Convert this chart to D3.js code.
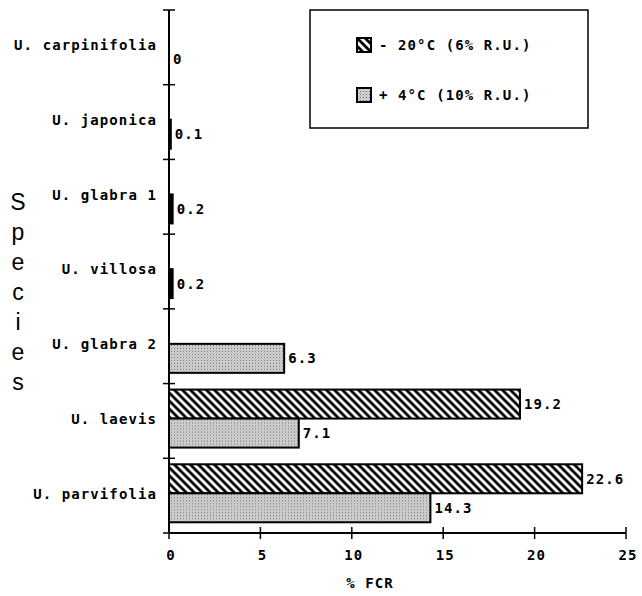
<!DOCTYPE html>
<html>
<head>
<meta charset="utf-8">
<script src="https://cdn.jsdelivr.net/npm/d3@7"></script>
<style>
  body { margin: 0; background: #fff; }
  text { font-family: "DejaVu Sans Mono", monospace; font-weight: bold; font-size: 14px; letter-spacing: 1.1px; fill: #000; }
</style>
</head>
<body>
<div id="chart"></div>
<script>
var species = ["U. carpinifolia", "U. japonica", "U. glabra 1", "U. villosa", "U. glabra 2", "U. laevis", "U. parvifolia"];
var minus20 = [null, null, null, null, null, 19.2, 22.6];   // - 20°C (6% R.U.)
var plus4 = [0, 0.1, 0.2, 0.2, 6.3, 7.1, 14.3];             // + 4°C (10% R.U.)
var xTicks = [0, 5, 10, 15, 20, 25];
var seriesNames = ["- 20°C (6% R.U.)", "+ 4°C (10% R.U.)"];

var width = 642, height = 596;
var svg = d3.select("#chart").append("svg")
  .attr("width", width).attr("height", height);

// patterns
var defs = svg.append("defs");
var hatch = defs.append("pattern").attr("id", "hatch")
  .attr("patternUnits", "userSpaceOnUse").attr("width", 8).attr("height", 8);
hatch.append("rect").attr("width", 8).attr("height", 8).attr("fill", "#fff");
hatch.append("path").attr("d", "M-2,-2 L10,10 M-2,6 L2,10 M6,-2 L10,2")
  .attr("stroke", "#000").attr("stroke-width", 2.8);

var dots = defs.append("pattern").attr("id", "dots")
  .attr("patternUnits", "userSpaceOnUse").attr("width", 3).attr("height", 3);
dots.append("rect").attr("width", 3).attr("height", 3).attr("fill", "#d6d6d6");
dots.append("rect").attr("width", 1).attr("height", 1).attr("fill", "#666");
dots.append("rect").attr("x", 1.5).attr("y", 1.5).attr("width", 1).attr("height", 1).attr("fill", "#999");

var x = d3.scaleLinear().domain([0, 25]).range([169, 626]);
var y = d3.scaleBand().domain(species).range([10, 533]);
var sub = d3.scaleBand().domain(["m20", "p4"]).range([6, 64]);

var rows = species.map(function(s, i) { return { name: s, m20: minus20[i], p4: plus4[i] }; });

// bars
var g = svg.selectAll(".grp").data(rows).enter().append("g")
  .attr("transform", function(d) { return "translate(0," + y(d.name) + ")"; });

["m20", "p4"].forEach(function(k) {
  var sel = g.filter(function(d) { return d[k] != null; });
  sel.filter(function(d) { return d[k] > 0; }).append("rect")
    .attr("x", x(0))
    .attr("y", sub(k))
    .attr("width", function(d) { return x(d[k]) - x(0); })
    .attr("height", sub.bandwidth())
    .attr("fill", function(d) { return d[k] < 1 ? "#000" : (k == "m20" ? "url(#hatch)" : "url(#dots)"); })
    .attr("stroke", "#000").attr("stroke-width", 2);
  sel.append("text")
    .attr("x", function(d) { return x(d[k]) + 4; })
    .attr("y", sub(k) + sub.bandwidth() / 2)
    .attr("dy", "0.35em")
    .text(function(d) { return d[k]; });
});

// y axis
svg.append("line").attr("x1", x(0)).attr("x2", x(0)).attr("y1", 10).attr("y2", 533)
  .attr("stroke", "#000").attr("stroke-width", 2);
var bounds = species.map(function(s) { return y(s); }).concat([533]);
svg.selectAll(".ytick").data(bounds).enter().append("line")
  .attr("x1", x(0) - 6).attr("x2", x(0) + 6)
  .attr("y1", function(d) { return d; }).attr("y2", function(d) { return d; })
  .attr("stroke", "#000").attr("stroke-width", 1.5);
svg.selectAll(".ylab").data(species).enter().append("text")
  .attr("x", 157)
  .attr("y", function(d) { return y(d) + y.bandwidth() / 2 - 2; })
  .attr("dy", "0.35em")
  .attr("text-anchor", "end")
  .text(function(d) { return d; });

// x axis
svg.append("line").attr("x1", x(0)).attr("x2", x(25)).attr("y1", 533).attr("y2", 533)
  .attr("stroke", "#000").attr("stroke-width", 2);
svg.selectAll(".xtick").data(xTicks).enter().append("line")
  .attr("x1", function(d) { return x(d); }).attr("x2", function(d) { return x(d); })
  .attr("y1", 527).attr("y2", 539)
  .attr("stroke", "#000").attr("stroke-width", 1.5);
svg.selectAll(".xlab").data(xTicks).enter().append("text")
  .attr("x", function(d) { return x(d) + 2; })
  .attr("y", 555)
  .attr("dy", "0.35em")
  .attr("text-anchor", "middle")
  .text(function(d) { return d; });
svg.append("text").attr("x", 370).attr("y", 583).attr("dy", "0.35em")
  .attr("text-anchor", "middle").text("% FCR");

// Species label, stacked letters
svg.selectAll(".sp").data("Species".split("")).enter().append("text")
  .attr("x", 18).attr("y", function(d, i) { return 210 + i * 30; })
  .attr("text-anchor", "middle")
  .style("font-family", "'Liberation Sans', Arial, sans-serif")
  .style("font-weight", "normal")
  .style("font-size", "23px")
  .style("letter-spacing", "0px")
  .text(function(d) { return d; });

// legend
svg.append("rect").attr("x", 310).attr("y", 10).attr("width", 278).attr("height", 118)
  .attr("fill", "#fff").attr("stroke", "#000").attr("stroke-width", 1.5);
var lg = svg.selectAll(".lg").data(seriesNames).enter().append("g")
  .attr("transform", function(d, i) { return "translate(357," + (38 + i * 50) + ")"; });
lg.append("rect").attr("width", 14).attr("height", 14)
  .attr("fill", function(d, i) { return i == 0 ? "url(#hatch)" : "url(#dots)"; })
  .attr("stroke", "#000").attr("stroke-width", 2);
lg.append("text").attr("x", 22).attr("y", 7).attr("dy", "0.35em")
  .text(function(d) { return d; });
</script>
</body>
</html>
